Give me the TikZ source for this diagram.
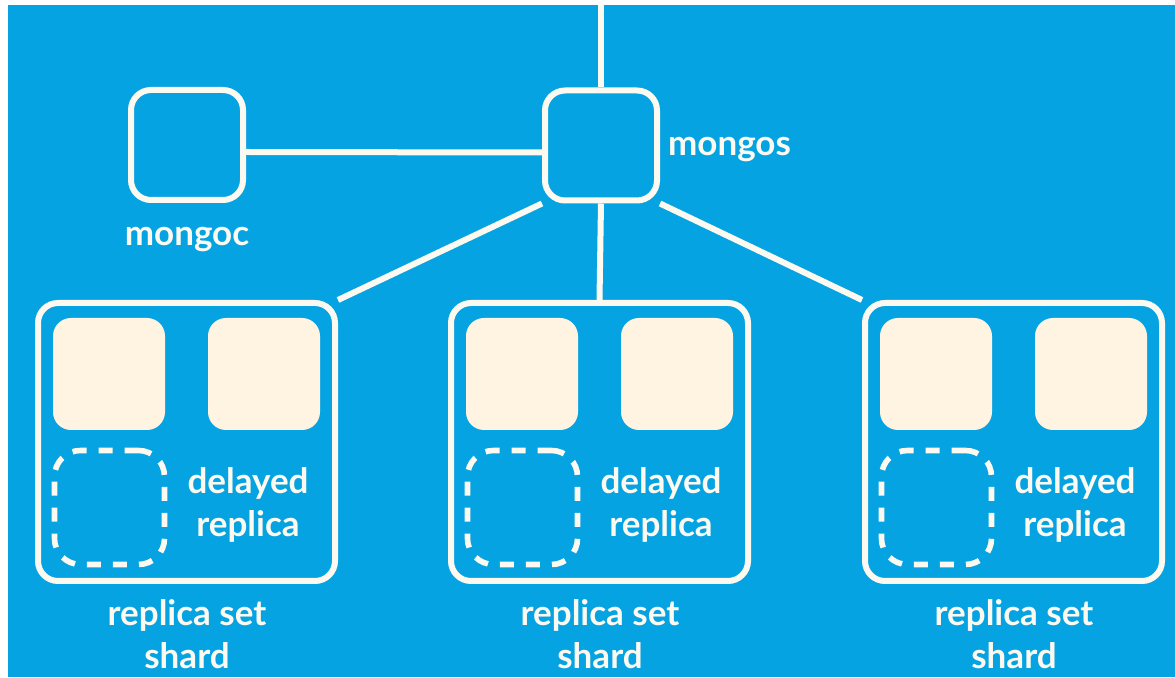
\documentclass[tikz,border=0pt]{standalone}
\usepackage{fontspec}
\setmainfont{Lato}
\definecolor{MongoBlue}{RGB}{6,163,227}
\definecolor{Cream}{RGB}{255,244,226}
\definecolor{LineWhite}{RGB}{252,250,240}
\usetikzlibrary{positioning,backgrounds}
\tikzset{
  box/.style={draw=LineWhite, line width=3pt, fill=MongoBlue, rounded corners=10pt,
    minimum width=56pt, minimum height=55pt, inner sep=0pt},
  shardbox/.style={box, minimum width=148.5pt, minimum height=139pt},
  member/.style={fill=Cream, rounded corners=9pt, minimum size=56pt, inner sep=0pt},
  delayedbox/.style={box, line width=2.8pt, rounded corners=13pt, dash pattern=on 7pt off 6pt,
    minimum width=55pt, minimum height=57pt},
  txt/.style={text=LineWhite, font=\bfseries\fontsize{17.5}{21.5}\selectfont, align=center},
  link/.style={draw=LineWhite, line width=3pt}
}

\begin{document}
\begin{tikzpicture}[x=0.5pt,y=-0.5pt]
        \useasboundingbox (0,0) rectangle (1175,678);
        % routers and config server
        \node[box] (mongoc) at (187,145) {};
        \node[box] (mongos) at (601,145.5) {};
        \node[txt] (mongoc-lbl) at (187,240) {mongoc};
        \node[txt, anchor=west] (mongos-lbl) at (661,150) {mongos};
        \coordinate (client) at (601,5);
        % shards
        \foreach \name/\cx in {shardA/186.5, shardB/599.5, shardC/1013.5} {
            \node[shardbox] (\name) at (\cx,442) {};
            \node[member] (\name-m1) at ({\cx-77.5},374) {};
            \node[member] (\name-m2) at ({\cx+77.5},374) {};
            \node[delayedbox] (\name-d) at ({\cx-77},507.5) {};
            \node[txt] (\name-dl) at ({\cx+61.5},505) {delayed\\replica};
            \node[txt] (\name-lbl) at ({\cx+0.5},634) {replica set\\shard};
        }
        \begin{scope}[on background layer]
            \fill[white] (0,0) rectangle (1175,678);
            \fill[MongoBlue] (8,5) rectangle (1175,677);
            \path[link] ([yshift=-3.5pt]mongoc.east) -- ([yshift=-3.5pt]mongos.west);
            \path[link] (mongos.north) -- (client);
            \path[link] (mongos.south west) -- (shardA.north east);
            \path[link] (mongos.south) -- (shardB.north);
            \path[link] (mongos.south east) -- (shardC.north west);
        \end{scope}
    \end{tikzpicture}
\end{document}
